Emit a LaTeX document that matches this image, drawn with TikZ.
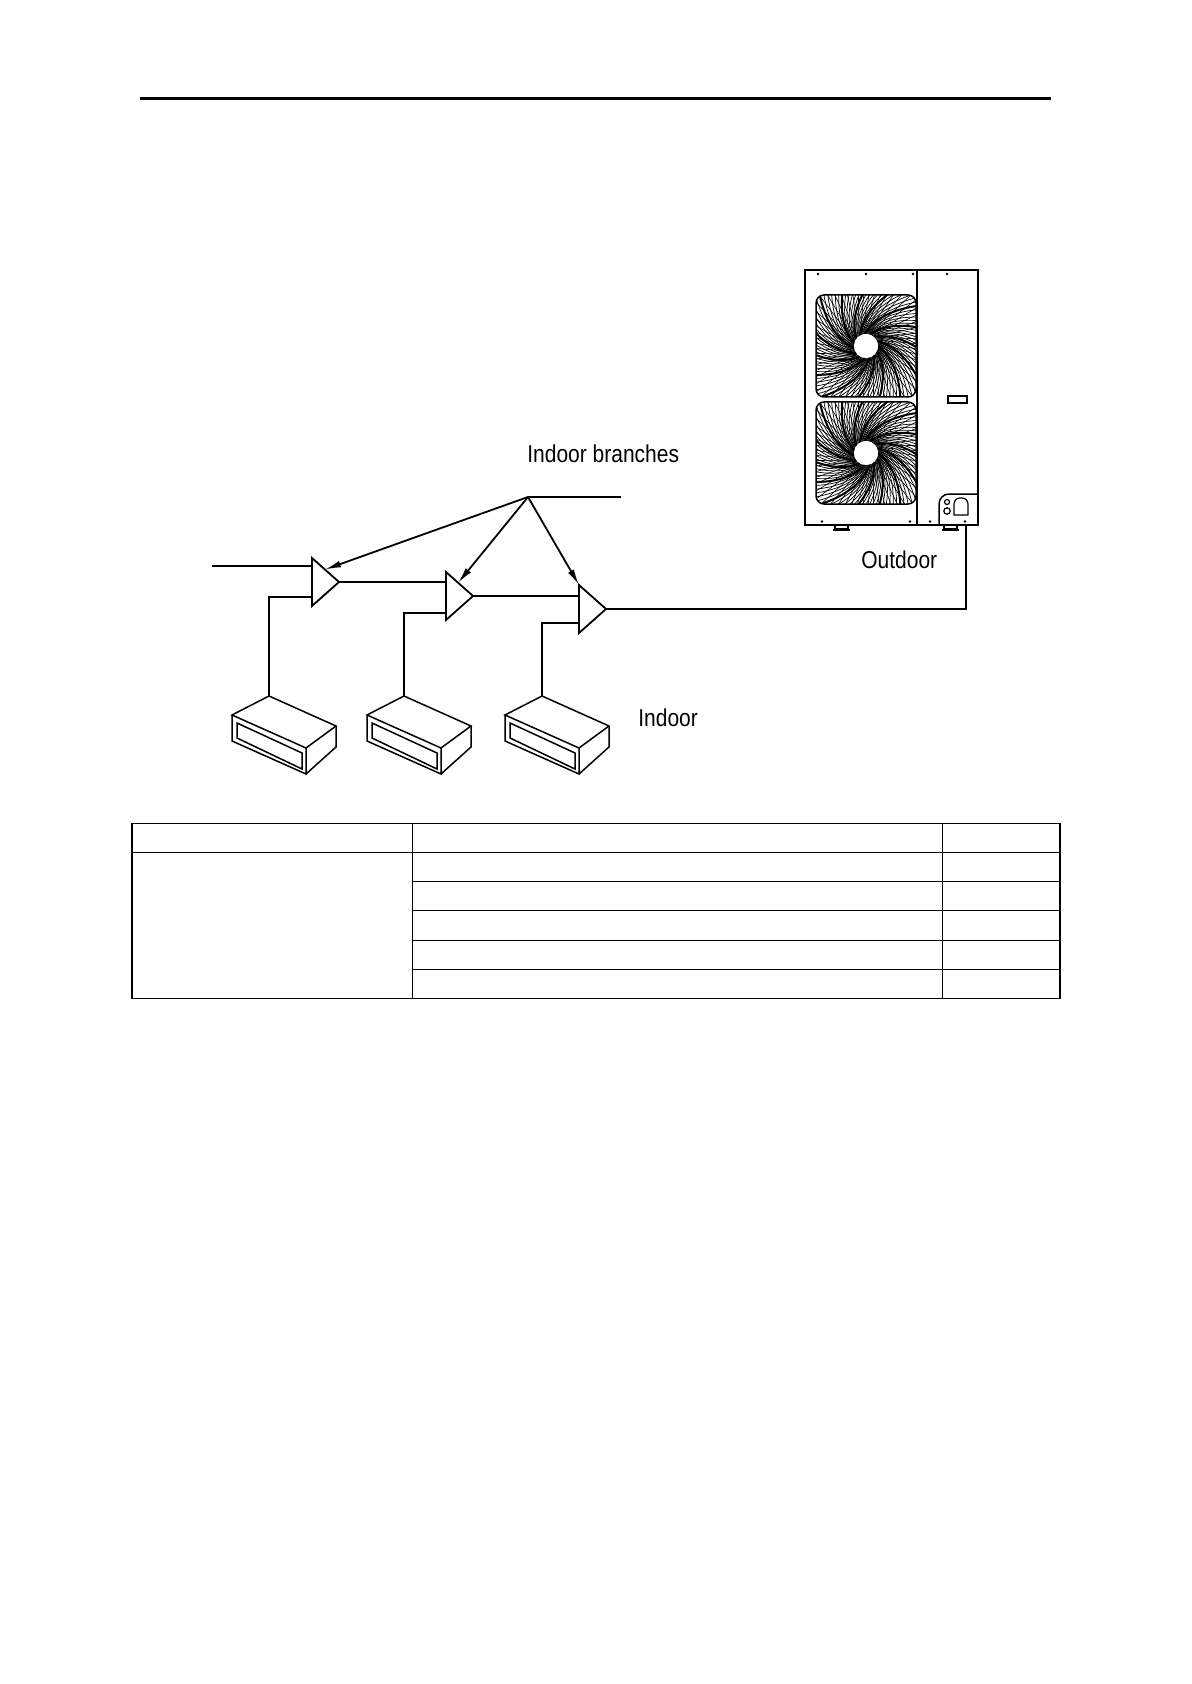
\documentclass[tikz,border=0pt]{standalone}
\usepackage{fontspec}
\setmainfont{Liberation Sans}
\newfontfamily\tagfont[FakeStretch=0.86]{Liberation Sans}
\usetikzlibrary{arrows.meta,calc}

\tikzset{
  pipe/.style={line width=0.9pt},
  feed/.style={line width=0.9pt,-{Latex[length=8pt,width=3.4pt]}},
  unitline/.style={line width=0.75pt},
  tag/.style={font=\tagfont\fontsize{12.2}{14}\selectfont,inner sep=0pt,anchor=base west},
  grid/.style={line width=0.8pt},
}

\begin{document}
\begin{tikzpicture}[x=0.5pt,y=-0.5pt]
  \useasboundingbox (0,0) rectangle (1191,1684);
  % page rule
  \draw[line width=1.5pt] (140,99) -- (1051,99);

  % branch joints
  \coordinate (t1) at (312,582);
  \coordinate (t2) at (446,596);
  \coordinate (t3) at (579,609);
  \foreach \n in {1,2,3}
    \draw[pipe] (t\n) ++(0,-24) coordinate (t\n a) -- ++(27,24) coordinate (t\n o) -- ++(-27,24) -- cycle;

  % indoor units
  \foreach \n/\x in {1/269,2/404,3/542} {
    \coordinate (u\n) at (\x,696);
    \draw[unitline] (u\n) -- ++(-37,19) -- ++(74,33) -- ++(30,-22) -- cycle;
    \draw[unitline] ($(u\n)+(-37,19)$) -- ++(0,26) -- ++(74,33) -- ++(0,-26);
    \draw[unitline] ($(u\n)+(37,78)$) -- ++(30,-27) -- ++(0,-21);
    \draw[unitline] ($(u\n)+(-32,27)$) -- ++(65,30) -- ++(0,16) -- ++(-65,-31) -- cycle;
  }

  % outdoor unit
  \coordinate (op) at (966,525);
  \draw[unitline] (805,270) rectangle (978,525);
  \draw[line width=1.3pt] (804,270) -- (979,270);
  \draw[unitline] (917,270) -- (917,525);
  \foreach \x in {818,866,913,947} \fill (\x,274) circle (1.3);
  \foreach \x in {822,910,930,965} \fill (\x,521.5) circle (1.3);
  \foreach \cy in {346,453} {
    \begin{scope}
      \clip[rounded corners=4] (816,\cy-51) rectangle (916,\cy+51);
      \foreach \a in {0,4,...,356}
        \draw[line width=0.35pt] ([shift={(866,\cy)}]\a:12) .. controls ([shift={(866,\cy)}]\a+25:35) and ([shift={(866,\cy)}]\a+50:60) .. ([shift={(866,\cy)}]\a+70:95);
      \foreach \a in {0,6,...,354}
        \draw[line width=0.3pt] ([shift={(866,\cy)}]\a:14) -- ([shift={(866,\cy)}]\a+25:95);
      \foreach \a in {0,24,...,336}
        \draw[line width=1pt] ([shift={(866,\cy)}]\a:12) .. controls ([shift={(866,\cy)}]\a+25:35) and ([shift={(866,\cy)}]\a+50:60) .. ([shift={(866,\cy)}]\a+70:95);
    \end{scope}
    \fill[white] (866,\cy) circle (12);
    \draw[unitline,rounded corners=4] (816,\cy-51) rectangle (916,\cy+51);
  }
  \draw[unitline] (948,396) rectangle (967,403);
  \draw[unitline,rounded corners=5] (939,525) -- (939,494) -- (978,494);
  \draw[line width=0.6pt] (947,502) circle (2.5);
  \draw[line width=0.6pt] (947,511) circle (3.2);
  \draw[line width=0.6pt] (954,515) [rounded corners=3] -- (954,498) -- (968,498) [sharp corners] -- (968,515) -- cycle;
  \foreach \x in {835,944} {
    \draw[unitline,fill=white] (\x,525) rectangle (\x+13,529);
    \draw[line width=1pt] (\x-2,529.5) -- (\x+15,529.5);
  }

  % pipes
  \coordinate (in0) at (212,566);
  \coordinate (hub) at (528,497);
  \coordinate (hubend) at (621,497);
  \draw[pipe] (in0) -- (in0 -| t1);
  \draw[pipe] (t1o) -- (t1o -| t2);
  \draw[pipe] (t2o) -- (t2o -| t3);
  \draw[pipe] (t3o) -| (op);
  \draw[pipe] ($(t1)+(0,15)$) -| (u1);
  \draw[pipe] ($(t2)+(0,17)$) -| (u2);
  \draw[pipe] ($(t3)+(0,14)$) -| (u3);
  \draw[pipe] (hub) -- (hubend);
  \draw[feed] (hub) -- ($(t1a)!0.48!(t1o)$);
  \draw[feed] (hub) -- ($(t2a)!0.45!(t2o)$);
  \draw[feed] (hub) -- (t3a);

  % labels
  \node[tag] (lbranch) at (527,462) {Indoor branches};
  \node[tag] (lout) at (861,568) {Outdoor};
  \node[tag] (lin) at (638,726) {Indoor};

  % table
  \draw[grid] (131.7,823.3) rectangle (1059.7,998.3);
  \draw[grid] (412.3,823.3) -- (412.3,998.3);
  \draw[grid] (942.3,823.3) -- (942.3,998.3);
  \draw[grid] (131.7,852.3) -- (1059.7,852.3);
  \foreach \y in {881.3,910.3,940.3,969.3}
    \draw[grid] (412.3,\y) -- (1059.7,\y);
\end{tikzpicture}
\end{document}
